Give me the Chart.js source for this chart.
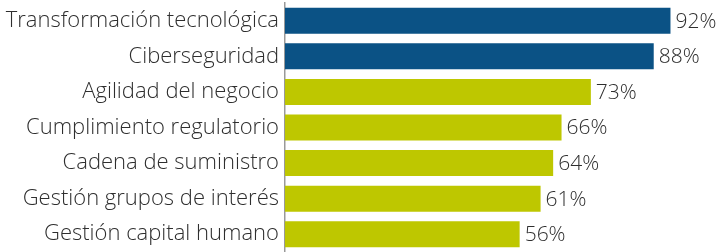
<!DOCTYPE html>
<html>
<head>
<meta charset="utf-8">
<script src="https://cdn.jsdelivr.net/npm/chart.js@4"></script>
<style>
  html, body { margin: 0; padding: 0; background: #fff; }
  #wrap { width: 724px; height: 252px; }
</style>
</head>
<body>
<div id="wrap"><canvas id="chart" width="724" height="252"></canvas></div>
<script>
const categories = [
  "Transformación tecnológica",
  "Ciberseguridad",
  "Agilidad del negocio",
  "Cumplimiento regulatorio",
  "Cadena de suministro",
  "Gestión grupos de interés",
  "Gestión capital humano"
];
const values = [92, 88, 73, 66, 64, 61, 56];
const barColors = ["#0b5285", "#0b5285", "#bec700", "#bec700", "#bec700", "#bec700", "#bec700"];

const FONT = "'Open Sans'";
const textColor = "#2e2e2e";

// draws the "92%" labels at the end of each bar
const valueLabels = {
  id: "valueLabels",
  afterDatasetsDraw(chart) {
    const ctx = chart.ctx;
    const meta = chart.getDatasetMeta(0);
    ctx.save();
    ctx.font = "300 21px " + FONT;
    ctx.fillStyle = textColor;
    ctx.textAlign = "left";
    ctx.textBaseline = "middle";
    meta.data.forEach((bar, i) => {
      ctx.fillText(values[i] + "%", bar.x + 5, bar.y + 1);
    });
    ctx.restore();
  }
};

new Chart(document.getElementById("chart").getContext("2d"), {
  type: "bar",
  data: {
    labels: categories,
    datasets: [{
      data: values,
      backgroundColor: barColors,
      borderWidth: 0,
      barPercentage: 0.73,
      categoryPercentage: 1
    }]
  },
  options: {
    indexAxis: "y",
    responsive: false,
    animation: false,
    layout: { padding: { top: 3, right: 20, bottom: 0, left: 0 } },
    plugins: { legend: { display: false }, tooltip: { enabled: false } },
    scales: {
      x: {
        min: 0,
        max: 100,
        display: false,
        grid: { display: false }
      },
      y: {
        afterFit(scale) {
          scale.width = 285;
          scale.paddingTop = 0;
          scale.paddingBottom = 0;
        },
        grid: { display: false, drawTicks: false },
        border: { display: true, color: "#999999", width: 1.5 },
        ticks: {
          color: textColor,
          padding: 6,
          font: { family: FONT, size: 22, weight: 300 }
        }
      }
    }
  },
  plugins: [valueLabels]
});
</script>
</body>
</html>
